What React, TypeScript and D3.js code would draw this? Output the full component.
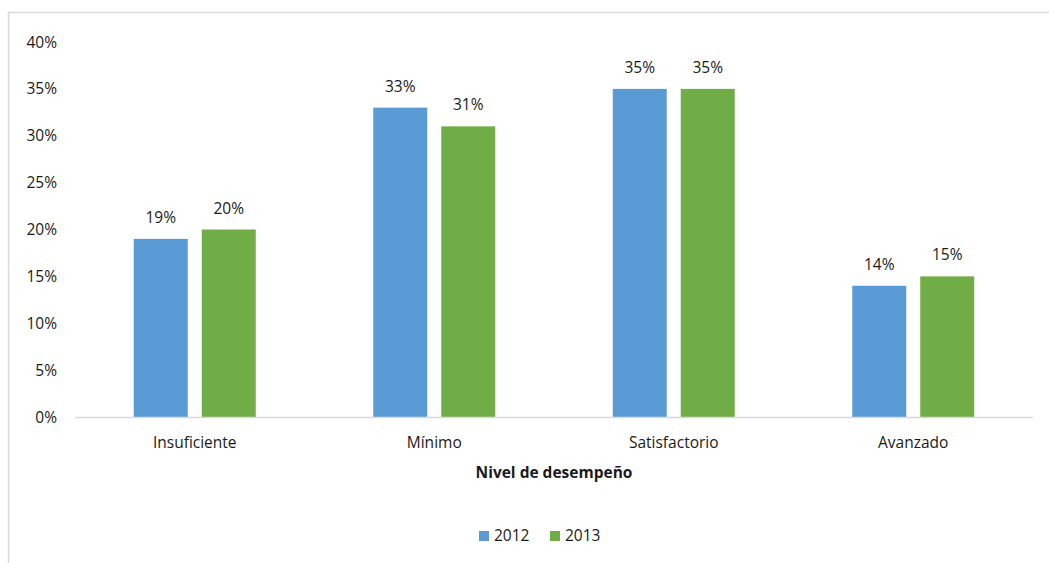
import React from "react";
import * as d3 from "d3";

const categories = ["Insuficiente", "Mínimo", "Satisfactorio", "Avanzado"];
const seriesNames = ["2012", "2013"];
const values2012 = [19, 33, 35, 14];
const values2013 = [20, 31, 35, 15];
const yTicks = [0, 5, 10, 15, 20, 25, 30, 35, 40];
const colors = ["#5b9bd5", "#70ad47"];

const W = 1049;
const H = 563;
const font = "'Open Sans', sans-serif";
const fs = 15.5;

export default function App() {
  const left = 75;
  const right = 1033;
  const top = 42;
  const bottom = 417;
  const x = d3.scaleBand<string>().domain(categories).range([left, right]).paddingInner(0).paddingOuter(0);
  const y = d3.scaleLinear().domain([0, 40]).range([bottom, top]);
  const barW = 54;
  const gap = 14;
  const series = [values2012, values2013];
  return (
    <svg width={W} height={H} style={{ position: "absolute", left: 0, top: 0 }}>
      <rect x={0} y={0} width={W} height={H} fill="#fff" />
      <rect x={8.5} y={12.5} width={W + 20} height={H + 20} fill="none" stroke="#d9d9d9" strokeWidth={1.5} />
      {yTicks.map((t) => (
        <text key={t} x={57} y={y(t) + 5.5} textAnchor="end" fontFamily={font} fontSize={fs} fill="#1a1a1a">
          {t}%
        </text>
      ))}
      {categories.map((c, i) => {
        const cx = (x(c) as number) + x.bandwidth() / 2;
        return (
          <g key={c}>
            {series.map((vals, s) => {
              const bx = cx - gap / 2 - barW + s * (barW + gap);
              return (
                <g key={s}>
                  <rect x={bx} y={y(vals[i])} width={barW} height={bottom - y(vals[i])} fill={colors[s]} />
                  <text x={bx + barW / 2} y={y(vals[i]) - 16} textAnchor="middle" fontFamily={font} fontSize={fs} fill="#1a1a1a">
                    {vals[i]}%
                  </text>
                </g>
              );
            })}
            <text x={cx} y={448} textAnchor="middle" fontFamily={font} fontSize={fs} fill="#1a1a1a">
              {c}
            </text>
          </g>
        );
      })}
      <line x1={left} x2={right} y1={bottom + 0.5} y2={bottom + 0.5} stroke="#d9d9d9" strokeWidth={1.5} />
      <text x={554} y={478} textAnchor="middle" fontFamily={font} fontSize={fs} fontWeight="bold" fill="#1a1a1a">
        Nivel de desempeño
      </text>
      {seriesNames.map((n, s) => {
        const lx = 479 + s * 71;
        return (
          <g key={n}>
            <rect x={lx} y={531} width={10} height={10} fill={colors[s]} />
            <text x={lx + 15} y={541} fontFamily={font} fontSize={fs} fill="#1a1a1a">
              {n}
            </text>
          </g>
        );
      })}
    </svg>
  );
}
